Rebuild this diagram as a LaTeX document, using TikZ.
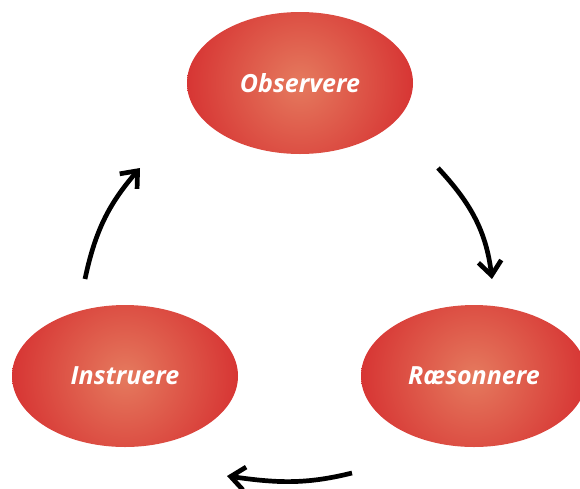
\documentclass[tikz,border=0pt]{standalone}
\usepackage{fontspec}
\setmainfont{Open Sans}
\usetikzlibrary{shapes.geometric,arrows.meta}
\definecolor{ovalin}{RGB}{229,122,94}
\definecolor{ovalout}{RGB}{211,34,40}
\tikzset{
  oval/.style={ellipse, draw=none, minimum width=226pt, minimum height=142pt, inner sep=0pt,
    path picture={\shade[inner color=ovalin, outer color=ovalout]
      (path picture bounding box.center) circle[radius=145pt];},
    text=white, font=\fontsize{25pt}{30pt}\selectfont\bfseries\itshape},
  cyc/.style={line width=4.7pt, -{Straight Barb[length=14pt, width=23pt, line width=4.7pt]}}
}
\begin{document}
\begin{tikzpicture}[x=1pt,y=-1pt]
\useasboundingbox (0,0) rectangle (580,488);
\clip (0,0) rectangle (580,488);
\node[oval] (obs) at (300,83) {Observere};
\node[oval] (ins) at (125,376) {Instruere};
\node[oval] (rae) at (474,376) {Ræsonnere};
\coordinate (a1s) at (438,168);
\coordinate (a1e) at (492,279);
\coordinate (a2s) at (85,279);
\coordinate (a2e) at (140,168);
\coordinate (a3s) at (352,473);
\coordinate (a3e) at (227,476);
\draw[cyc] (a1s) to[out=-47, in=97] (a1e);
\draw[cyc] (a2s) to[out=78, in=229] (a2e);
\draw[cyc] (a3s) to[out=194, in=-8] (a3e);
\end{tikzpicture}
\end{document}
